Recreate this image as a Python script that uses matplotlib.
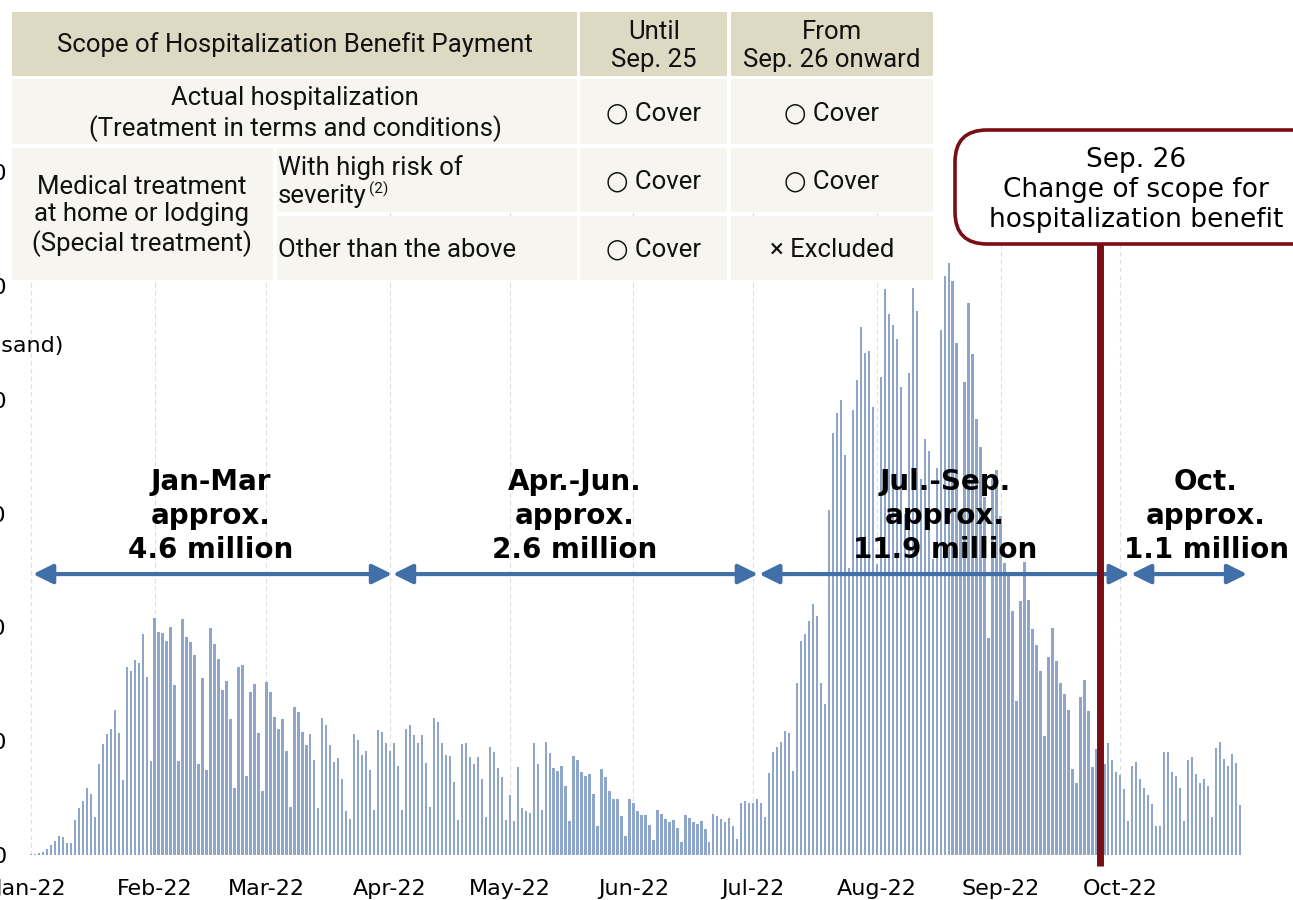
import numpy as np
import matplotlib.pyplot as plt
from matplotlib.patches import Rectangle, FancyBboxPatch

# daily new cases in thousands (Jan 1 - Oct 31, 2022)
jan = [0.5, 0.6, 0.8, 1.3, 2.5, 4.2, 6.3, 8.3, 7.8, 5.4, 5.4, 15.4, 20.5, 23.9, 29.3, 26.6,
       16.8, 40.1, 48.8, 53.1, 55.2, 63.8, 53.4, 32.8, 82.4, 80.8, 85.5, 84.5, 96.9, 78.0, 41.4]
feb = [104.0, 98.1, 97.6, 94.1, 100.3, 74.5, 41.3, 103.7, 95.9, 93.5, 87.7, 39.8, 77.6, 37.3,
       99.6, 92.7, 86.0, 72.5, 76.6, 59.6, 29.6, 82.7, 83.3, 34.7, 71.6, 75.0, 53.7, 28.2]
mar = [76.0, 71.5, 60.5, 55.2, 59.6, 45.5, 21.3, 64.9, 62.9, 53.9, 48.4, 53.1, 41.7, 20.5, 60.2,
       57.1, 48.2, 40.8, 42.5, 33.2, 19.4, 15.9, 53.1, 50.5, 43.8, 45.7, 37.4, 19.9, 54.8, 54.2, 49.3]
apr = [45.7, 49.3, 38.9, 19.8, 55.4, 57.1, 52.7, 49.1, 52.6, 40.6, 20.9, 60.3, 58.3, 49.2, 44.1,
       43.5, 32.2, 15.4, 48.8, 49.0, 43.0, 40.0, 43.0, 33.4, 16.5, 47.3, 45.1, 38.2, 34.4, 15.5]
may = [26.2, 14.9, 38.5, 20.5, 19.2, 18.6, 49.2, 40.0, 19.8, 49.5, 44.9, 38.1, 36.7, 39.2, 30.2,
       15.1, 43.5, 41.9, 36.5, 34.6, 35.6, 26.6, 12.6, 37.6, 34.4, 28.0, 24.6, 24.7, 17.1, 8.2, 24.6]
jun = [22.7, 19.2, 17.7, 17.7, 13.2, 6.4, 19.8, 18.0, 15.7, 14.5, 15.2, 11.7, 5.7, 17.4, 16.3,
       14.6, 13.6, 15.1, 11.4, 5.6, 17.9, 17.0, 15.8, 14.6, 16.3, 12.7, 7.0, 22.8, 23.6, 22.7]
jul = [22.7, 24.6, 22.8, 16.5, 36.0, 45.4, 47.6, 49.6, 54.5, 53.4, 36.9, 75.4, 94.0, 97.2, 102.8,
       110.1, 105.0, 75.5, 66.3, 151.5, 185.2, 194.3, 199.8, 175.7, 125.9, 195.4, 208.6, 231.8,
       220.3, 221.2, 196.9]
aug = [128.0, 210.0, 248.6, 237.6, 232.6, 226.5, 205.7, 150.0, 211.5, 249.2, 239.1, 165.0, 182.7,
       177.4, 130.0, 170.0, 230.6, 254.4, 259.9, 252.1, 225.0, 150.0, 207.6, 242.6, 219.9, 191.5,
       179.3, 157.1, 95.1, 165.0, 169.1]
sep = [149.0, 128.1, 123.7, 107.2, 67.6, 111.6, 128.8, 111.9, 99.1, 92.2, 81.0, 52.4, 87.1, 99.6,
       85.3, 75.4, 70.6, 63.5, 37.6, 31.5, 69.4, 76.9, 63.4, 38.7, 46.4, 22.0, 40.0, 49.3, 41.7, 36.5]
octo = [35.0, 29.1, 15.0, 39.2, 40.7, 33.2, 29.4, 26.4, 22.4, 12.9, 12.9, 45.1, 45.1, 36.3, 34.6,
        29.3, 15.1, 41.7, 43.0, 35.7, 31.5, 33.4, 30.4, 16.5, 47.1, 49.8, 42.2, 39.0, 44.2, 40.4, 22.1]

months = [jan, feb, mar, apr, may, jun, jul, aug, sep, octo]
month_labels = ['Jan-22', 'Feb-22', 'Mar-22', 'Apr-22', 'May-22', 'Jun-22',
                'Jul-22', 'Aug-22', 'Sep-22', 'Oct-22']
period_names = ['Jan-Mar', 'Apr.-Jun.', 'Jul.-Sep.', 'Oct.']
period_totals = ['4.6 million', '2.6 million', '11.9 million', '1.1 million']
change_day = 268  # Sep. 26

header_cells = ['Scope of Hospitalization Benefit Payment', 'Until\nSep. 25', 'From\nSep. 26 onward']
row_names = ['Actual hospitalization\n(Treatment in terms and conditions)',
             'With high risk of\nseverity', 'Other than the above']
group_name = 'Medical treatment\nat home or lodging\n(Special treatment)'
until_col = ['○ Cover', '○ Cover', '○ Cover']
from_col = ['○ Cover', '○ Cover', '× Excluded']
callout = 'Sep. 26\nChange of scope for\nhospitalization benefit'

cases = np.array(sum(months, []))
days = np.arange(len(cases))
month_start = np.concatenate([[0], np.cumsum([len(m) for m in months])[:-1]])

W, H = 1293, 900
fig = plt.figure(figsize=(W / 100, H / 100), dpi=100)

# chart axes: day 0 sits at x=31px, 3.99px per day, value 0 at y=855px, 300 at y=172px
x0, ppd = 31, 3.99
ax = fig.add_axes([15 / W, 45 / H, (W - 15) / W, (855 - 172) / H])
ax.set_xlim((15 - x0) / ppd, (W - x0) / ppd)
ax.set_ylim(0, 300)

ax.bar(days, cases, width=0.6, color='#8DA6CA', zorder=2)
for d in month_start:
    ax.axvline(d, color='#DCDCDC', lw=0.8, ls=(0, (4, 3)), zorder=1)

ax.set_xticks(month_start, month_labels)
ax.set_yticks(range(0, 301, 50))
ax.tick_params(axis='x', length=0, labelsize=16, pad=17)
ax.tick_params(axis='y', length=0, labelsize=16, pad=6)
for s in ax.spines.values():
    s.set_visible(False)

arrow_y = 123.4
arrow_spans = [(0.5, 90.5), (90.7, 182.2), (182.5, 275.4), (275.7, 304.8)]
label_x = [45.1, 136.3, 229.1, 294.5]
for (a, b), lx, name, tot in zip(arrow_spans, label_x, period_names, period_totals):
    ax.annotate('', xy=(b, arrow_y), xytext=(a, arrow_y),
                arrowprops=dict(arrowstyle='<|-|>,head_length=0.85,head_width=0.42',
                                color='#4170A8', lw=3, shrinkA=0, shrinkB=0,
                                mutation_scale=14), zorder=3)
    ax.text(lx, 149.0, f'{name}\napprox.\n{tot}', ha='center', va='center',
            fontsize=20, fontweight='bold', linespacing=1.27, zorder=4)

ax.plot([change_day, change_day], [-4.8, 268.4], color='#7A0C14', lw=5,
        solid_capstyle='butt', clip_on=False, zorder=6)

# overlay in pixel coordinates for table and callout
ov = fig.add_axes([0, 0, 1, 1])
ov.set_xlim(0, W)
ov.set_ylim(H, 0)
ov.axis('off')

tan, light = '#DDD9C3', '#F6F5F0'
tfont = dict(family=['Roboto', 'DejaVu Sans'], fontsize=18.5, color='#111111')
cells = [
    (12, 12, 577, 76, tan), (580, 12, 727, 76, tan), (731, 12, 933, 76, tan),
    (12, 79, 577, 144, light), (580, 79, 727, 144, light), (731, 79, 933, 144, light),
    (12, 148, 273, 280, light), (277, 148, 577, 212, light), (580, 148, 727, 212, light),
    (731, 148, 933, 212, light), (277, 216, 577, 280, light), (580, 216, 727, 280, light),
    (731, 216, 933, 280, light),
]
for xa, ya, xb, yb, c in cells:
    ov.add_patch(Rectangle((xa, ya), xb - xa, yb - ya, fc=c, ec='none', zorder=1))

ov.text(295, 45, header_cells[0], ha='center', va='center', **tfont)
ov.text(654, 46, header_cells[1], ha='center', va='center', linespacing=1.2, **tfont)
ov.text(832, 46, header_cells[2], ha='center', va='center', linespacing=1.2, **tfont)

ov.text(295, 114, row_names[0], ha='center', va='center', linespacing=1.2, **tfont)
ov.text(142, 216, group_name, ha='center', va='center', linespacing=1.2, **tfont)
line1, line2 = row_names[1].split('\n')
ov.text(278, 168, line1, ha='left', va='center', **tfont)
ov.text(278, 196, line2, ha='left', va='center', **tfont)
ov.text(369, 189, '(2)', ha='left', va='center', family=['Roboto', 'DejaVu Sans'],
        fontsize=11, color='#111111')
ov.text(278, 250, row_names[2], ha='left', va='center', **tfont)

for i, yc in enumerate([114, 182, 250]):
    ov.text(654, yc, until_col[i], ha='center', va='center', **tfont)
    ov.text(832, yc, from_col[i], ha='center', va='center', **tfont)

ov.add_patch(FancyBboxPatch((955, 130), 420, 114, boxstyle='round,pad=0,rounding_size=32',
                            fc='white', ec='#7A0C14', lw=2.6, zorder=2))
ov.text(1136, 190, callout, ha='center', va='center', fontsize=19,
        linespacing=1.2, zorder=3)

ov.text(64, 346, '(thousand)', ha='right', va='center', fontsize=16)

fig.savefig('out.png', dpi=100)
